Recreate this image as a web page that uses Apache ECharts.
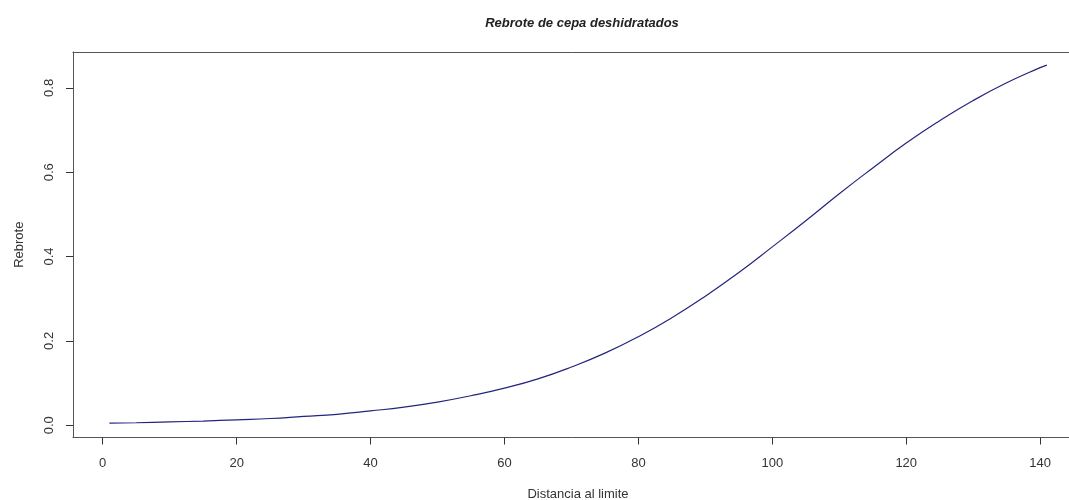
<!DOCTYPE html>
<html>
<head>
<meta charset="utf-8">
<script src="https://cdn.jsdelivr.net/npm/echarts@6/dist/echarts.min.js"></script>
<style>
  html, body { margin: 0; padding: 0; background: #fff; }
  #chart { width: 1069px; height: 500px; }
</style>
</head>
<body>
<div id="chart"></div>
<script>
// distancia al limite (x) y rebrote (y)
const distancia = [1, 5, 10, 15, 20, 25, 30, 35, 40, 45, 50, 55, 60, 65, 70,
  75, 80, 85, 90, 95, 100, 105, 110, 115, 120, 125, 130, 135, 140, 141]
const rebrote = [0.005, 0.006, 0.008, 0.010, 0.013, 0.016, 0.021, 0.026, 0.034, 0.043,
  0.055, 0.070, 0.088, 0.110, 0.138, 0.171, 0.210, 0.255, 0.306, 0.362,
  0.423, 0.485, 0.549, 0.610, 0.669, 0.722, 0.770, 0.812, 0.848, 0.854]
const xTicks = [0, 20, 40, 60, 80, 100, 120, 140]
const yTicks = [0, 0.2, 0.4, 0.6, 0.8]

const font = 'Liberation Sans, Arial, sans-serif'
const boxLine = { show: true, onZero: false, lineStyle: { color: '#555', width: 1 } }
const chart = echarts.init(document.getElementById('chart'))

// el recuadro de R sigue mas alla del borde derecho, por eso no hay linea derecha
chart.setOption({
  animation: false,
  backgroundColor: '#fff',
  title: {
    text: 'Rebrote de cepa deshidratados',
    left: 577,
    top: 12,
    textAlign: 'center',
    textStyle: { fontFamily: font, fontSize: 13, fontWeight: 'bold', fontStyle: 'italic', color: '#222' }
  },
  grid: { left: 73, top: 52, right: -14, bottom: 62.5, show: false, outerBoundsMode: 'none', containLabel: false },
  xAxis: [{
    type: 'value',
    min: -4.44,
    max: 146.4,
    position: 'bottom',
    name: 'Distancia al limite',
    nameLocation: 'middle',
    nameGap: 50,
    nameTextStyle: { fontFamily: font, fontSize: 13, color: '#333' },
    axisLine: boxLine,
    splitLine: { show: false },
    axisTick: { show: true, length: 7, customValues: xTicks, lineStyle: { color: '#333' } },
    axisLabel: { customValues: xTicks, margin: 19, fontFamily: font, fontSize: 13, color: '#333' }
  }, {
    type: 'value',
    min: -4.44,
    max: 146.4,
    position: 'top',
    axisLine: boxLine,
    axisTick: { show: false },
    axisLabel: { show: false },
    splitLine: { show: false }
  }],
  yAxis: {
    type: 'value',
    min: -0.029,
    max: 0.885,
    name: 'Rebrote',
    nameLocation: 'middle',
    nameGap: 47,
    nameTextStyle: { fontFamily: font, fontSize: 13, color: '#333' },
    axisLine: boxLine,
    splitLine: { show: false },
    axisTick: { show: true, length: 7, customValues: yTicks, lineStyle: { color: '#333' } },
    axisLabel: {
      customValues: yTicks, rotate: 90, margin: 17,
      fontFamily: font, fontSize: 13, color: '#333',
      formatter: v => v.toFixed(1)
    }
  },
  series: [{
    type: 'line',
    data: distancia.map((d, i) => [d, rebrote[i]]),
    symbol: 'none',
    smooth: true,
    lineStyle: { color: '#24247e', width: 1.2 }
  }]
})
</script>
</body>
</html>
